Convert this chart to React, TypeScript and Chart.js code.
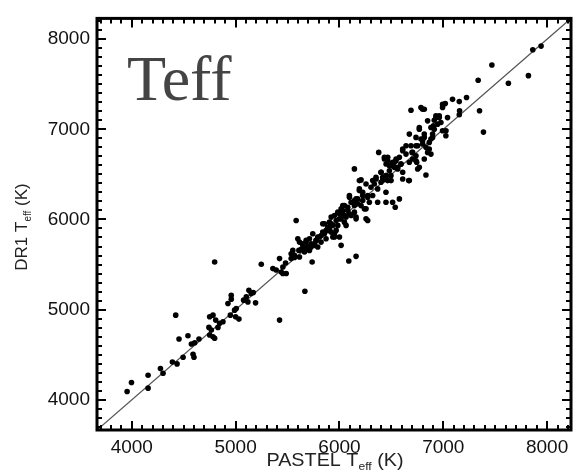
import React, { useEffect, useRef } from "react";
import { Chart, registerables } from "chart.js";

Chart.register(...registerables);

// PASTEL Teff (x) and DR1 Teff (y), in K
const pastelTeff = [
  3955, 3997, 4157, 4157, 4276, 4301, 4391, 4436, 4423, 4455, 4494, 4541, 4590, 4599, 4574, 4606, 4647,
  4798, 4750, 4782, 4808, 4743, 4766, 4798, 4782, 4830, 4846, 4878, 4750, 4926, 4958, 4958, 4949, 4990,
  5006, 5032, 5000, 5077, 5103, 5128, 5150, 5170, 5118, 5192, 5247, 5359, 5391, 5439, 5481, 5455, 5423,
  5455, 5487, 5567, 5583, 5609, 5631, 5679, 5695, 5711, 5743, 5760, 5737, 5775, 5807, 5839, 5855, 5871,
  5904, 5920, 5952, 5936, 5968, 6000, 6016, 6016, 6032, 6048, 6080, 6096, 6090, 6160, 6112, 6144, 6176,
  6192, 6208, 6224, 6256, 6272, 6256, 6288, 6320, 6336, 6368, 6368, 6400, 6416, 6448, 6464, 6496, 6448,
  6512, 6537, 6192, 6144, 6208, 6378, 6433, 6465, 6449, 6497, 6529, 6545, 6577, 6593, 6609, 6641, 6673,
  6699, 6705, 6737, 6744, 6753, 6689, 6769, 6785, 6817, 6801, 6817, 6849, 6833, 6865, 6849, 6833, 6881,
  6897, 6905, 6913, 6929, 6945, 6961, 6977, 6993, 7025, 7041, 6993, 7019, 7089, 7154, 7224, 7154, 7349,
  7387, 7336, 7468, 7627, 7820, 7862, 7942, 7157,
  6032, 6080, 6096, 6160, 6192, 6224, 6256, 6272, 6304, 6320, 6352, 6400, 6416, 6449, 6481, 6497, 6529,
  6561, 6577, 6667, 6609,
  5615, 5647, 5663, 5711, 5727, 5791, 5823, 5887, 5920, 5968, 5984, 6000, 6048, 6064, 6144, 6160, 5535,
  5551, 5423, 5667,
  5599, 5647, 5679, 5663, 5727, 5760, 5776, 5791, 5824, 5839, 5872, 5888, 5856, 5904, 5920, 5952, 5984,
  6016, 6048, 6032, 6000, 6064, 6112, 6144, 6176, 6224, 6272, 6240, 6160, 5936, 5952, 5615, 5567, 5535,
  6096,
  6801, 6993, 6930, 6961, 6881, 6913, 7026, 6769, 6737, 6785, 6817, 6897, 6753, 6801, 6689, 6609, 6641,
  6705, 6737, 6865, 6881, 6433, 6465, 6481, 6513, 6545, 6561, 6593, 6769, 6737, 6817, 6673, 6401, 6449,
  6353, 6609, 6673,
];
const dr1Teff = [
  4092, 4191, 4129, 4273, 4346, 4295, 4420, 4398, 4939, 4674, 4472, 4711, 4505, 4472, 4619, 4633, 4674,
  5528, 4921, 4939, 4884, 4803, 4773, 4682, 4700, 4803, 4848, 4865, 4718, 5068, 5160, 5116, 4939, 4994,
  5012, 4895, 4920, 5105, 5142, 5215, 5180, 5190, 5086, 5075, 5503, 5455, 5440, 5418, 5517, 5400, 4884,
  5473, 5400, 5579, 5989, 5657, 5668, 5749, 5699, 5786, 5842, 5713, 5528, 5768, 5805, 5952, 5842, 5786,
  5897, 5860, 5805, 5934, 5989, 6063, 5713, 6007, 6100, 6044, 6136, 6063, 5539, 5591, 6191, 6154, 6228,
  6339, 6154, 6265, 6007, 5989, 6118, 6191, 6265, 6394, 6339, 6191, 6413, 6468, 6302, 6431, 6486, 6191,
  6191, 6136, 6431, 6561, 6439, 6744, 6671, 6689, 6615, 6597, 6634, 6671, 6689, 6615, 6763, 6818, 6947,
  6744, 6671, 6818, 6634, 6560, 7212, 7020, 7241, 7223, 6874, 6947, 7094, 6800, 6855, 6744, 6494, 6892,
  6947, 7039, 7100, 7149, 7057, 7130, 7075, 6984, 6928, 7130, 7278, 7285, 7332, 7307, 7352, 7162, 7205,
  6969, 7544, 7713, 7510, 7595, 7882, 7923, 7205,
  6155, 6100, 6246, 6228, 6320, 6302, 6394, 6265, 6357, 6431, 6468, 6523, 6431, 6486, 6541, 6431, 6578,
  6560, 6228, 6431, 6523,
  5749, 5713, 5639, 5657, 5731, 5694, 5749, 5879, 5952, 5879, 5934, 5805, 5970, 5934, 6081, 6026, 5620,
  5657, 5566, 5204,
  5786, 5731, 5768, 5676, 5694, 5731, 5768, 5805, 5823, 5860, 5879, 5915, 5952, 5970, 6026, 6044, 6081,
  6118, 6155, 6063, 6007, 6026, 6044, 6210, 6173, 6210, 6246, 6118, 6007, 5805, 5842, 5584, 5602, 5566,
  6265,
  7223, 7241, 7131, 7149, 7020, 7001, 6984, 7001, 6910, 6892, 6910, 6910, 6818, 6837, 6818, 6781, 6725,
  6744, 6707, 6781, 6725, 6689, 6652, 6597, 6634, 6652, 6578, 6615, 6578, 6652, 6671, 6634, 6523, 6486,
  6449, 6449, 6431,
];

// one-to-one line endpoints (axis limits)
const axisMin = 3665;
const axisMax = 8230;
const oneToOneX = [axisMin, axisMax];
const oneToOneY = [axisMin, axisMax];
const majorTicks = [4000, 5000, 6000, 7000, 8000];

const FONT = "'Liberation Sans', Arial, Helvetica, sans-serif";

function drawTitleWithSub(ctx: CanvasRenderingContext2D, pre: string, sub: string, post: string, size: number, subSize: number, subDy: number) {
  ctx.font = `${size}px ${FONT}`;
  const w1 = ctx.measureText(pre).width;
  const w3 = ctx.measureText(post).width;
  ctx.font = `${subSize}px ${FONT}`;
  const w2 = ctx.measureText(sub).width;
  const total = w1 + w2 + w3;
  let x = -total / 2;
  ctx.font = `${size}px ${FONT}`;
  ctx.fillText(pre, x, 0);
  x += w1;
  ctx.font = `${subSize}px ${FONT}`;
  ctx.fillText(sub, x, subDy);
  x += w2;
  ctx.font = `${size}px ${FONT}`;
  ctx.fillText(post, x, 0);
}

const framePlugin = {
  id: "frameTicks",
  afterDraw(chart: any) {
    const { ctx, chartArea } = chart;
    const { left, right, top, bottom } = chartArea;
    const xs = chart.scales.x;
    const ys = chart.scales.y;
    ctx.save();
    ctx.strokeStyle = "#000";
    ctx.lineWidth = 2;
    ctx.beginPath();
    for (let v = 3700; v <= 8200; v += 100) {
      const major = v % 1000 === 0;
      const len = major ? 9 : 5;
      const px = Math.round(xs.getPixelForValue(v));
      ctx.moveTo(px, bottom);
      ctx.lineTo(px, bottom - len);
      ctx.moveTo(px, top);
      ctx.lineTo(px, top + len);
      const py = Math.round(ys.getPixelForValue(v));
      ctx.moveTo(left, py);
      ctx.lineTo(left + len, py);
      ctx.moveTo(right, py);
      ctx.lineTo(right - len, py);
    }
    ctx.stroke();
    ctx.lineWidth = 3;
    ctx.strokeRect(left, top, right - left, bottom - top);

    // axis titles
    ctx.fillStyle = "#222";
    ctx.textBaseline = "alphabetic";
    ctx.textAlign = "left";
    ctx.save();
    ctx.translate(335, 466);
    ctx.scale(1.1, 1);
    drawTitleWithSub(ctx, "PASTEL T", "eff", " (K)", 18, 11, 4);
    ctx.restore();

    ctx.save();
    ctx.translate(27, 227);
    ctx.rotate(-Math.PI / 2);
    drawTitleWithSub(ctx, "DR1 T", "eff", " (K)", 17, 10, 4);
    ctx.restore();

    // overlay label
    ctx.fillStyle = "#444";
    ctx.font = "64px 'Liberation Serif', 'Times New Roman', serif";
    ctx.fillText("Teff", 127, 100);
    ctx.restore();
  },
};

export default function App() {
  const ref = useRef<HTMLCanvasElement | null>(null);
  useEffect(() => {
    document.body.style.margin = "0";
    const canvas = ref.current;
    if (!canvas) return;
    const points = pastelTeff.map((x, i) => ({ x, y: dr1Teff[i] }));
    const line = oneToOneX.map((x, i) => ({ x, y: oneToOneY[i] }));
    const tickCfg = {
      font: { family: FONT, size: 19 },
      color: "#111",
      callback: (v: any) => String(v),
    };
    const gridCfg = { display: false, drawTicks: false, tickLength: 0 };
    const chart = new Chart(canvas, {
      type: "scatter",
      data: {
        datasets: [
          {
            type: "line",
            data: line,
            borderColor: "#555",
            borderWidth: 1.3,
            pointRadius: 0,
            fill: false,
            order: 2,
          } as any,
          {
            type: "scatter",
            data: points,
            backgroundColor: "#000",
            borderWidth: 0,
            pointRadius: 2.8,
            order: 1,
          },
        ],
      },
      options: {
        animation: false,
        responsive: false,
        layout: { padding: { top: 17, right: 2, left: 0, bottom: 0 } },
        plugins: { legend: { display: false }, tooltip: { enabled: false } },
        scales: {
          x: {
            type: "linear",
            min: axisMin,
            max: axisMax,
            grid: gridCfg,
            border: { display: false },
            ticks: { ...tickCfg, padding: 6, maxRotation: 0 },
            afterBuildTicks: (s: any) => {
              s.ticks = majorTicks.map((v) => ({ value: v }));
            },
            afterFit: (s: any) => {
              s.height = 44;
            },
          },
          y: {
            type: "linear",
            min: axisMin,
            max: axisMax,
            grid: gridCfg,
            border: { display: false },
            ticks: { ...tickCfg, padding: 7 },
            afterBuildTicks: (s: any) => {
              s.ticks = majorTicks.map((v) => ({ value: v }));
            },
            afterFit: (s: any) => {
              s.width = 97;
            },
          },
        },
      },
      plugins: [framePlugin],
    });
    return () => chart.destroy();
  }, []);
  return (
    <div style={{ width: 575, height: 474 }}>
      <canvas ref={ref} width={575} height={474} style={{ display: "block" }} />
    </div>
  );
}
